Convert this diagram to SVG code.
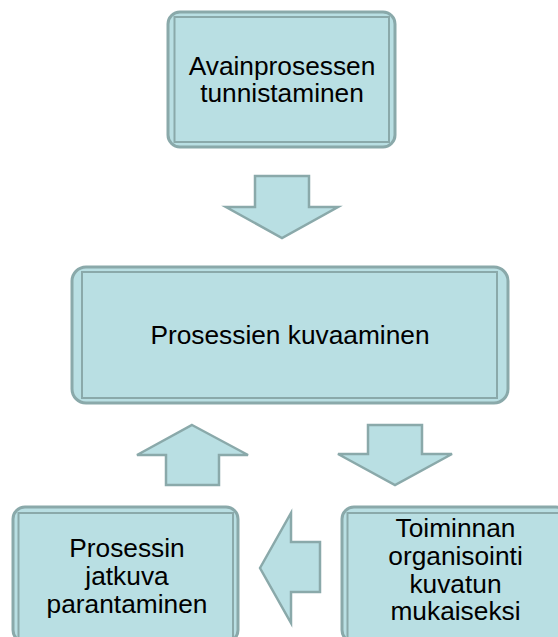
<svg xmlns="http://www.w3.org/2000/svg" width="558" height="637" viewBox="0 0 558 637">
  <style>
    .box { fill: #b9dfe3; stroke: #8aa9aa; stroke-width: 3; }
    .frame { fill: none; stroke: #8aa9aa; stroke-width: 2; }
    .arrow { fill: #b9dfe3; stroke: #8aa9aa; stroke-width: 2.5; stroke-linejoin: miter; }
    .label { font-family: "Liberation Sans", Arial, sans-serif; font-size: 26.3px; fill: #000; text-anchor: middle; }
  </style>
  <rect width="558" height="637" fill="#ffffff"/>

  <!-- process steps -->
  <g id="node-avainprosessit">
    <rect class="box" x="168" y="12" width="227" height="135" rx="12"/>
    <rect class="frame" x="174.5" y="17" width="214.5" height="125"/>
    <text class="label" x="282" y="75">Avainprosessen</text>
    <text class="label" x="282" y="102">tunnistaminen</text>
  </g>

  <g id="node-kuvaaminen">
    <rect class="box" x="72" y="267" width="436" height="136" rx="14"/>
    <rect class="frame" x="82" y="272" width="415" height="126"/>
    <text class="label" x="290" y="344">Prosessien kuvaaminen</text>
  </g>

  <g id="node-parantaminen">
    <rect class="box" x="13" y="507" width="225" height="135" rx="12"/>
    <rect class="frame" x="18.5" y="513" width="214.5" height="125"/>
    <text class="label" x="127" y="557">Prosessin</text>
    <text class="label" x="127" y="585">jatkuva</text>
    <text class="label" x="127" y="613">parantaminen</text>
  </g>

  <g id="node-organisointi">
    <rect class="box" x="342" y="507" width="226" height="135" rx="12"/>
    <rect class="frame" x="347.5" y="513" width="214.5" height="125"/>
    <text class="label" x="455.5" y="537">Toiminnan</text>
    <text class="label" x="455.5" y="565">organisointi</text>
    <text class="label" x="455.5" y="593">kuvatun</text>
    <text class="label" x="455.5" y="620">mukaiseksi</text>
  </g>

  <!-- block arrows between steps -->
  <g id="connectors">
    <polygon class="arrow" points="255,176 309,176 309,207 338,207 282,238 226,207 255,207"/>
    <polygon class="arrow" points="192,425 248,455 219,455 219,485 166,485 166,455 137,455"/>
    <polygon class="arrow" points="368,425 422,425 422,454 452,454 395,485 338,454 368,454"/>
    <polygon class="arrow" points="260,568 291,513 291,542 320,542 320,592 291,592 291,623"/>
  </g>
</svg>
